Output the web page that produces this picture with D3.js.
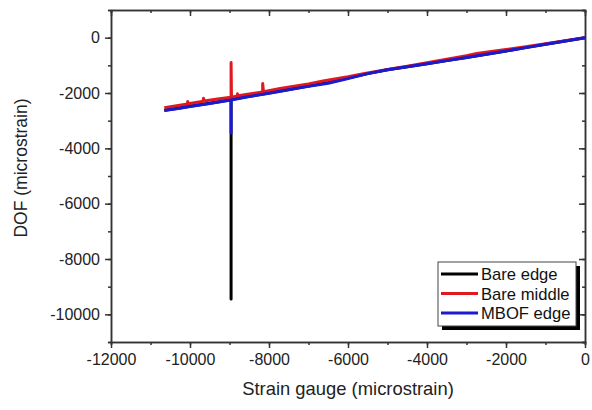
<!DOCTYPE html>
<html>
<head>
<meta charset="utf-8">
<script src="https://cdn.jsdelivr.net/npm/d3@7"></script>
<style>
  body { margin: 0; background: #fff; }
  svg { font-family: Arial, "Liberation Sans", sans-serif; }
</style>
</head>
<body>
<svg id="chart" width="592" height="410"></svg>
<script>
// strain gauge readings (x) and DOF readings (y), microstrain
var bareEdgeX   = [-10650, -10300, -10000, -9500, -9000, -8960, -8960, -8960, -8500, -8000, -7500, -7000, -6500, -6000, -5500, -5000, -4500, -4000, -3500, -3000, -2500, -2000, -1500, -1000, -500, 0];
var bareEdgeY   = [-2620, -2550, -2480, -2370, -2250, -2240, -9450, -2240, -2120, -2000, -1870, -1750, -1620, -1460, -1300, -1160, -1050, -940, -830, -720, -600, -480, -360, -240, -120, 0];

var bareMiddleX = [-10650, -10300, -10060, -10060, -10040, -9660, -9660, -9640, -9300, -8960, -8960, -8950, -8800, -8800, -8780, -8500, -8160, -8160, -8140, -7720, -7000, -6630, -6000, -5610, -5000, -4500, -4000, -3500, -3000, -2740, -2000, -1500, -1000, -500, 0];
var bareMiddleY = [-2530, -2450, -2400, -2310, -2390, -2300, -2190, -2290, -2220, -2150, -900, -2150, -2110, -2030, -2100, -2040, -1960, -1660, -1950, -1840, -1670, -1565, -1410, -1300, -1150, -1030, -910, -780, -650, -575, -430, -330, -220, -110, 0];

var mbofEdgeX   = [-10650, -10300, -10000, -9500, -9000, -8960, -8960, -8960, -8500, -8000, -7500, -7000, -6500, -6000, -5500, -5000, -4500, -4000, -3500, -3000, -2500, -2000, -1500, -1000, -500, 0];
var mbofEdgeY   = [-2630, -2560, -2490, -2380, -2260, -2250, -3450, -2250, -2130, -2010, -1880, -1760, -1650, -1480, -1300, -1160, -1050, -940, -830, -720, -600, -480, -360, -240, -120, 0];

var seriesNames  = ["Bare edge", "Bare middle", "MBOF edge"];
var seriesColors = ["#000000", "#e0191e", "#1a1ad0"];

var xTicks = [-12000, -10000, -8000, -6000, -4000, -2000, 0];
var yTicks = [0, -2000, -4000, -6000, -8000, -10000];

var margin = {left: 111, right: 585, top: 10, bottom: 342};

var svg = d3.select("#chart");

var x = d3.scaleLinear().domain([-12000, 0]).range([margin.left, margin.right]);
var y = d3.scaleLinear().domain([-11000, 1000]).range([margin.bottom, margin.top]);

var minorX = d3.range(-12000, 1, 1000);
var minorY = d3.range(-11000, 1001, 1000);

var axisColor = "#333";

function styleAxis(g) {
    g.select(".domain").attr("stroke", axisColor).attr("stroke-width", 1.5);
    g.selectAll(".tick line").attr("stroke", axisColor).attr("stroke-width", 1.5);
    g.selectAll(".tick text").attr("fill", "#222").style("font-size", "16px");
}

// minor ticks first (no labels)
svg.append("g").attr("transform", "translate(0," + margin.bottom + ")")
    .call(d3.axisBottom(x).tickValues(minorX).tickSize(3).tickFormat(""))
    .call(styleAxis);
svg.append("g").attr("transform", "translate(0," + margin.top + ")")
    .call(d3.axisBottom(x).tickValues(minorX).tickSize(3).tickFormat(""))
    .call(styleAxis);
svg.append("g").attr("transform", "translate(" + margin.left + ",0)")
    .call(d3.axisLeft(y).tickValues(minorY).tickSize(3).tickFormat(""))
    .call(styleAxis);
svg.append("g").attr("transform", "translate(" + margin.right + ",0)")
    .call(d3.axisLeft(y).tickValues(minorY).tickSize(3).tickFormat(""))
    .call(styleAxis);

// major ticks
svg.append("g").attr("transform", "translate(0," + margin.bottom + ")")
    .call(d3.axisBottom(x).tickValues(xTicks).tickSize(6).tickSizeOuter(0).tickPadding(6).tickFormat(d3.format("d")))
    .call(styleAxis);
svg.append("g").attr("transform", "translate(0," + margin.top + ")")
    .call(d3.axisBottom(x).tickValues(xTicks).tickSize(6).tickSizeOuter(0).tickFormat(""))
    .call(styleAxis);
svg.append("g").attr("transform", "translate(" + margin.left + ",0)")
    .call(d3.axisLeft(y).tickValues(yTicks).tickSize(6).tickSizeOuter(0).tickPadding(5).tickFormat(d3.format("d")))
    .call(styleAxis);
svg.append("g").attr("transform", "translate(" + margin.right + ",0)")
    .call(d3.axisLeft(y).tickValues(yTicks).tickSize(6).tickSizeOuter(0).tickFormat(""))
    .call(styleAxis);

// the '-' in labels: d3 uses unicode minus, swap to hyphen like the original
svg.selectAll(".tick text").text(function () { return this.textContent.replace("\u2212", "-"); });

// data lines
var series = [
    {xs: bareEdgeX, ys: bareEdgeY},
    {xs: bareMiddleX, ys: bareMiddleY},
    {xs: mbofEdgeX, ys: mbofEdgeY}
];

var line = d3.line()
    .x(function (d) { return x(d[0]); })
    .y(function (d) { return y(d[1]); });

series.forEach(function (s, i) {
    svg.append("path")
        .datum(d3.zip(s.xs, s.ys))
        .attr("d", line)
        .attr("fill", "none")
        .attr("stroke", seriesColors[i])
        .attr("stroke-width", 3)
        .attr("stroke-linejoin", "round");
});

// axis titles
svg.append("text")
    .attr("x", (margin.left + margin.right) / 2)
    .attr("y", 395)
    .attr("text-anchor", "middle")
    .style("font-size", "18.4px")
    .attr("fill", "#222")
    .text("Strain gauge (microstrain)");

svg.append("text")
    .attr("transform", "translate(27," + 168 + ") rotate(-90)")
    .attr("text-anchor", "middle")
    .style("font-size", "17.5px")
    .attr("fill", "#222")
    .text("DOF (microstrain)");

// legend
var lx = 438, ly = 262, lw = 138, lh = 64;
var legend = svg.append("g");
legend.append("rect")
    .attr("x", lx + 4).attr("y", ly + 4)
    .attr("width", lw).attr("height", lh)
    .attr("fill", "#000");
legend.append("rect")
    .attr("x", lx).attr("y", ly)
    .attr("width", lw).attr("height", lh)
    .attr("fill", "#fff")
    .attr("stroke", "#444")
    .attr("stroke-width", 1);

seriesNames.forEach(function (name, i) {
    var yy = ly + 12 + i * 19.5;
    legend.append("line")
        .attr("x1", lx + 3).attr("x2", lx + 40)
        .attr("y1", yy).attr("y2", yy)
        .attr("stroke", seriesColors[i])
        .attr("stroke-width", 3);
    legend.append("text")
        .attr("x", lx + 43).attr("y", yy + 6)
        .style("font-size", "16.6px")
        .attr("fill", "#111")
        .text(name);
});
</script>
</body>
</html>
